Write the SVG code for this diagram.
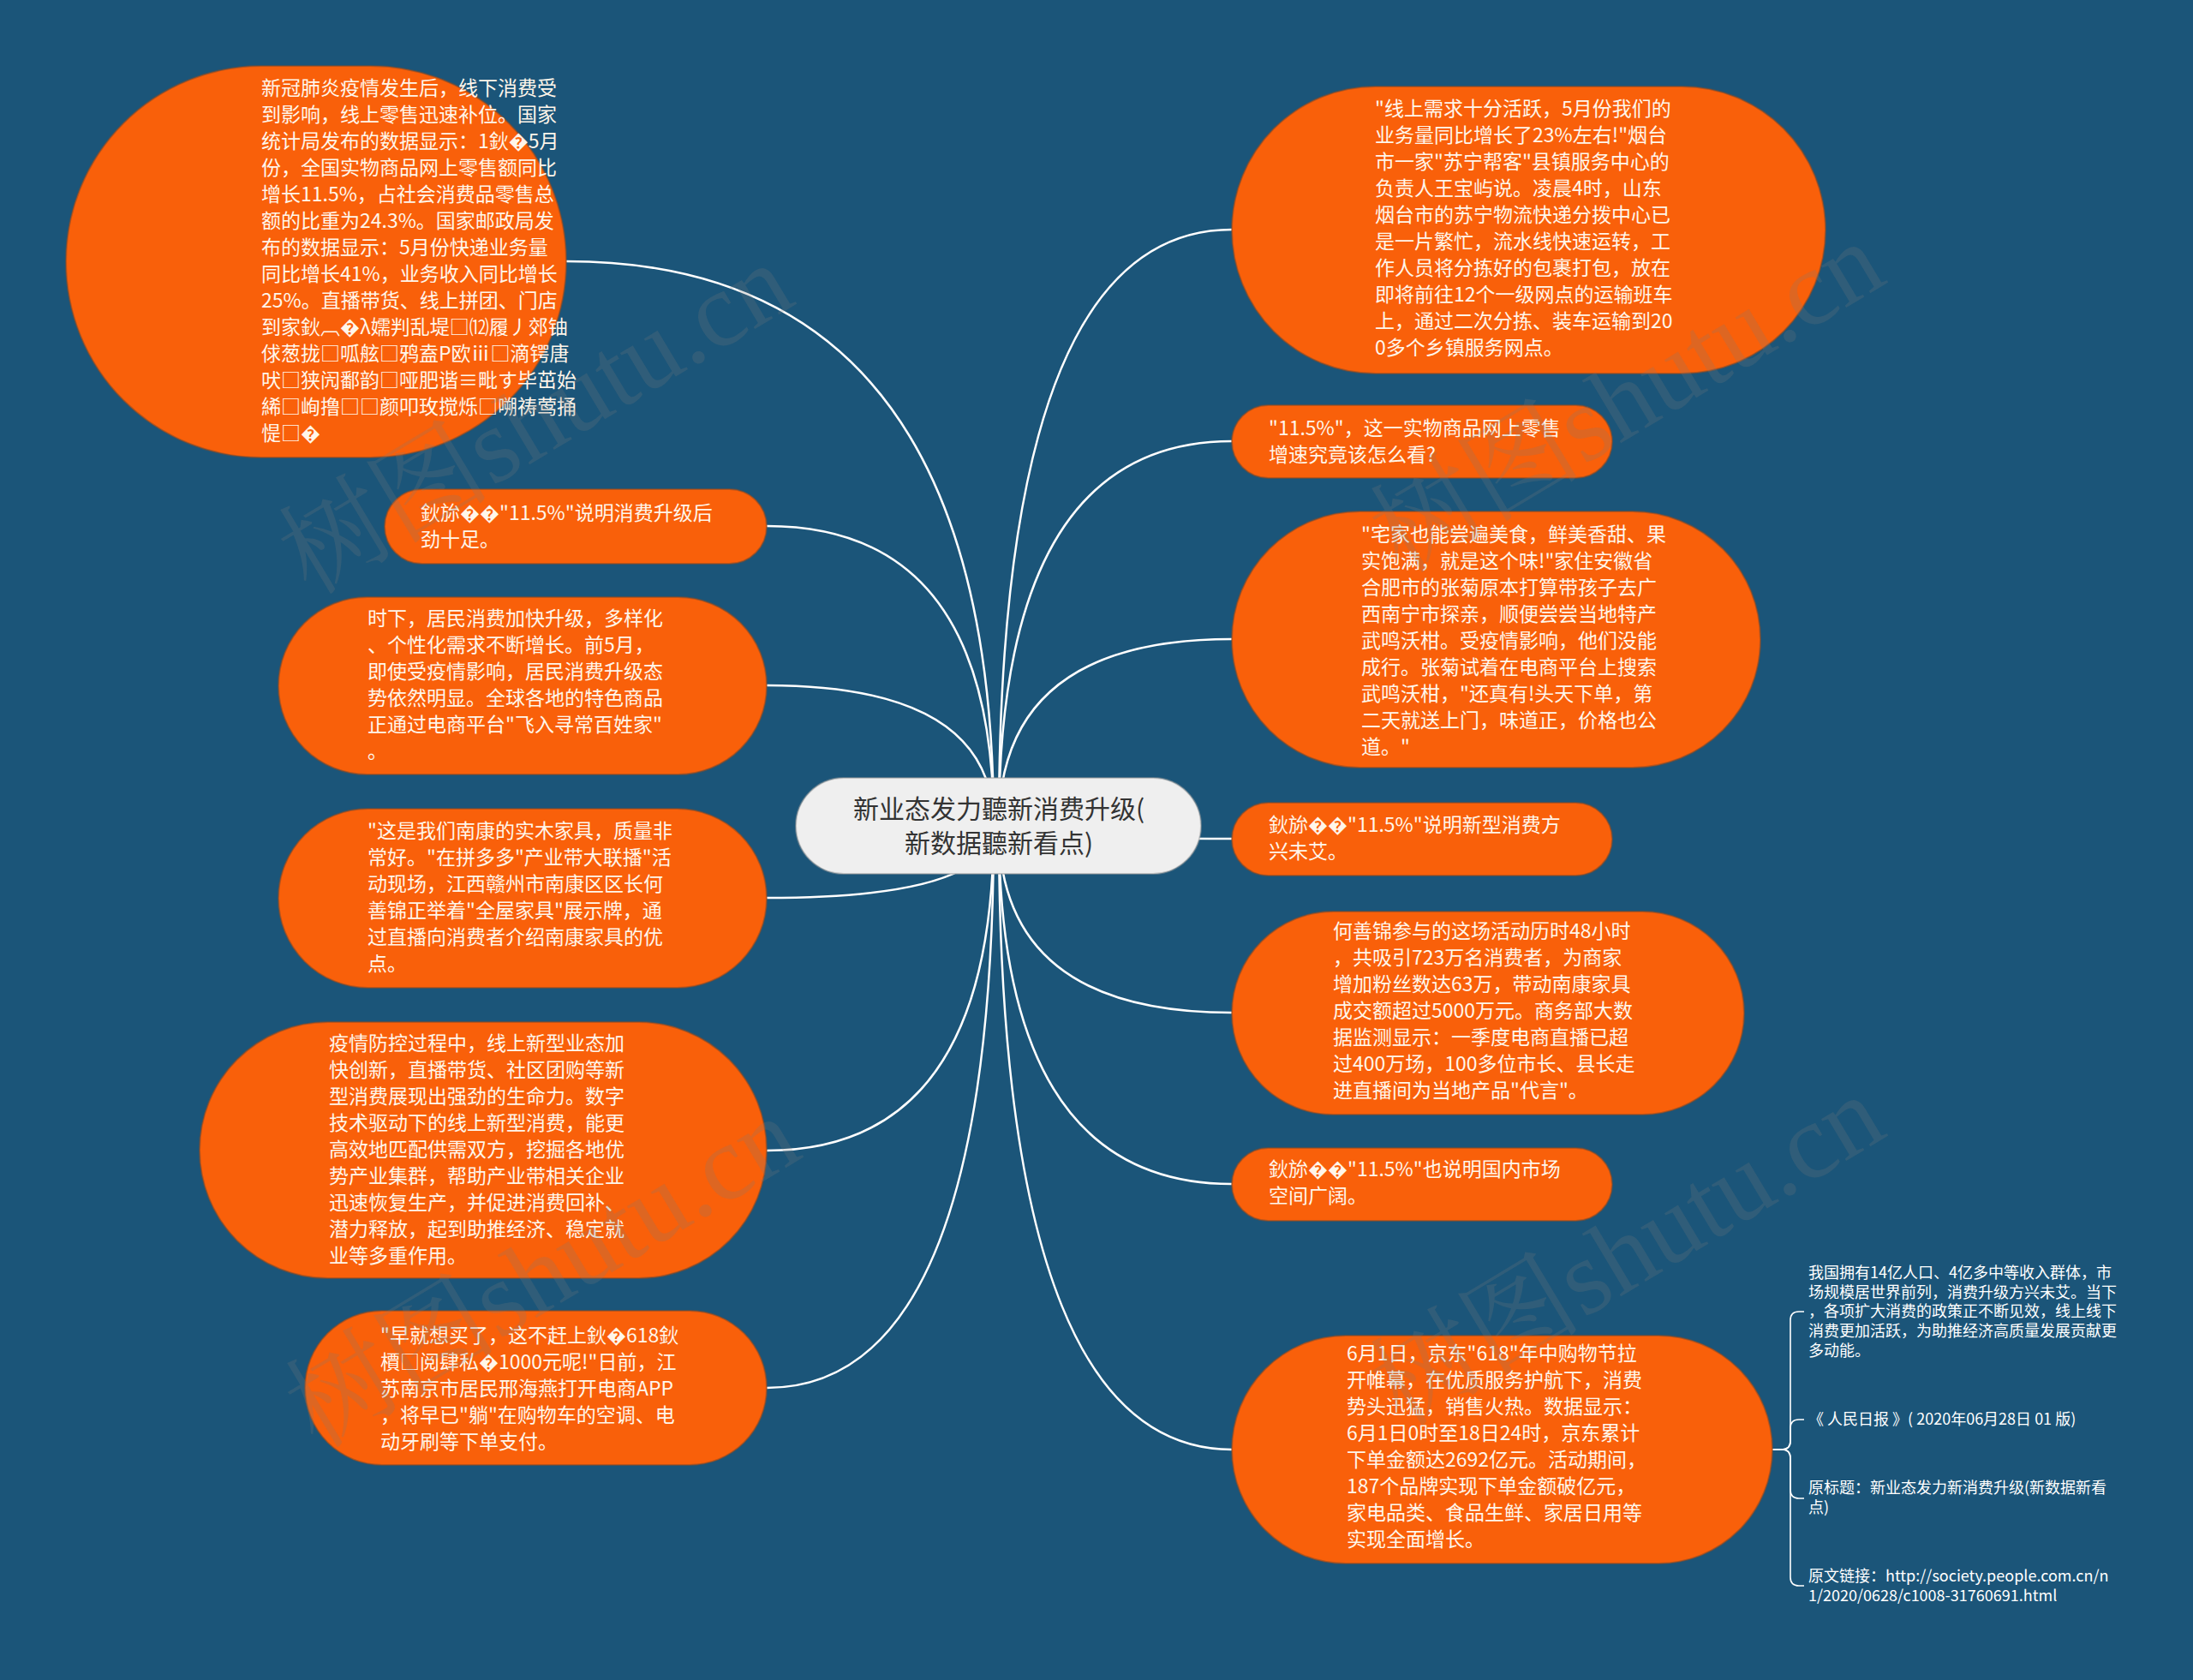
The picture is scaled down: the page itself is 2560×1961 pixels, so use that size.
<svg xmlns="http://www.w3.org/2000/svg" width="2560" height="1961" viewBox="0 0 2560 1961">
<style>
.bg{fill:#1b5579}
.node rect{fill:#f9600a;stroke:#8a4a26;stroke-opacity:.55;stroke-width:2}
.root rect{fill:#efefef;stroke:#9a9a9a;stroke-opacity:.5;stroke-width:2}
.t{font-family:"Noto Sans CJK SC","Noto Sans",sans-serif;font-size:23px;fill:#fff6ea}
.rt{font-family:"Noto Sans CJK SC","Noto Sans",sans-serif;font-size:30px;fill:#333333;text-anchor:middle}
.nt{font-family:"Noto Sans CJK SC","Noto Sans",sans-serif;font-size:18px;fill:#ffffff}
.edge{fill:none;stroke:#ffffff;stroke-width:2.5}
.brace{fill:none;stroke:#ffffff;stroke-width:1.6}
.wm{font-family:"Liberation Serif","Noto Serif CJK SC","Noto Sans CJK SC",serif;font-size:124px;fill:#7a7a7a;fill-opacity:.22}
</style>
<rect class="bg" x="0" y="0" width="2560" height="1961"/>

<g id="connectors">
<path class="edge" d="M1160 964 Q1160 305 661 305"/>
<path class="edge" d="M1160 964 Q1160 614 895 614"/>
<path class="edge" d="M1160 964 Q1160 800 895 800"/>
<path class="edge" d="M1160 964 Q1160 1048 895 1048"/>
<path class="edge" d="M1160 964 Q1160 1343 895 1343"/>
<path class="edge" d="M1160 964 Q1160 1620 895 1620"/>
<path class="edge" d="M1166 964 Q1166 268 1438 268"/>
<path class="edge" d="M1166 964 Q1166 515 1438 515"/>
<path class="edge" d="M1166 964 Q1166 746 1438 746"/>
<path class="edge" d="M1166 964 Q1166 979 1438 979"/>
<path class="edge" d="M1166 964 Q1166 1182 1438 1182"/>
<path class="edge" d="M1166 964 Q1166 1382 1438 1382"/>
<path class="edge" d="M1166 964 Q1166 1692 1438 1692"/>
<path class="brace" d="M2069 1692 L2080 1692 Q2090 1692 2090 1682 L2090 1541 Q2090 1531 2100 1531 L2106 1531"/>
<path class="brace" d="M2069 1692 L2080 1692 Q2090 1692 2090 1682 L2090 1667 Q2090 1657 2100 1657 L2106 1657"/>
<path class="brace" d="M2069 1692 L2080 1692 Q2090 1692 2090 1702 L2090 1739 Q2090 1749 2100 1749 L2106 1749"/>
<path class="brace" d="M2069 1692 L2080 1692 Q2090 1692 2090 1702 L2090 1841 Q2090 1851 2100 1851 L2106 1851"/>
</g>

<g id="root" class="root">
<rect x="929" y="908" width="473" height="112" rx="56"/>
<text class="rt"><tspan x="1166" y="955">新业态发力聽新消费升级(</tspan><tspan x="1166" y="995">新数据聽新看点)</tspan></text>
</g>

<g id="n1" class="node">
<rect x="77" y="77" width="584" height="457" rx="228.5"/>
<text class="t">
<tspan x="305" y="111">新冠肺炎疫情发生后，线下消费受</tspan>
<tspan x="305" y="142">到影响，线上零售迅速补位。国家</tspan>
<tspan x="305" y="173">统计局发布的数据显示：1鈥�5月</tspan>
<tspan x="305" y="204">份，全国实物商品网上零售额同比</tspan>
<tspan x="305" y="235">增长11.5%，占社会消费品零售总</tspan>
<tspan x="305" y="266">额的比重为24.3%。国家邮政局发</tspan>
<tspan x="305" y="297">布的数据显示：5月份快递业务量</tspan>
<tspan x="305" y="328">同比增长41%，业务收入同比增长</tspan>
<tspan x="305" y="359">25%。直播带货、线上拼团、门店</tspan>
<tspan x="305" y="390">到家鈥︹�λ嬬判乱堤□⑿履丿郊铀</tspan>
<tspan x="305" y="421">俅葱拢□呱舷□鸦盍P欧ⅲ□滴锷唐</tspan>
<tspan x="305" y="452">吠□狭闶鄱韵□哑肥谐≡毗す毕茁始</tspan>
<tspan x="305" y="483">絺□峋撸□□颜叩玫搅烁□嗍祷莺捅</tspan>
<tspan x="305" y="514">惿□�</tspan>
</text>
</g>

<g id="n2" class="node">
<rect x="449" y="571" width="446" height="87" rx="43.5"/>
<text class="t"><tspan x="491" y="607">鈥旀��"11.5%"说明消费升级后</tspan><tspan x="491" y="638">劲十足。</tspan></text>
</g>

<g id="n3" class="node">
<rect x="325" y="697" width="570" height="207" rx="103.5"/>
<text class="t">
<tspan x="429" y="730">时下，居民消费加快升级，多样化</tspan>
<tspan x="429" y="761">、个性化需求不断增长。前5月，</tspan>
<tspan x="429" y="792">即使受疫情影响，居民消费升级态</tspan>
<tspan x="429" y="823">势依然明显。全球各地的特色商品</tspan>
<tspan x="429" y="854">正通过电商平台"飞入寻常百姓家"</tspan>
<tspan x="429" y="885">。</tspan>
</text>
</g>

<g id="n4" class="node">
<rect x="325" y="944" width="570" height="209" rx="104.5"/>
<text class="t">
<tspan x="429" y="978">"这是我们南康的实木家具，质量非</tspan>
<tspan x="429" y="1009">常好。"在拼多多"产业带大联播"活</tspan>
<tspan x="429" y="1040">动现场，江西赣州市南康区区长何</tspan>
<tspan x="429" y="1071">善锦正举着"全屋家具"展示牌，通</tspan>
<tspan x="429" y="1102">过直播向消费者介绍南康家具的优</tspan>
<tspan x="429" y="1133">点。</tspan>
</text>
</g>

<g id="n5" class="node">
<rect x="233" y="1193" width="662" height="299" rx="149.5"/>
<text class="t">
<tspan x="384" y="1226">疫情防控过程中，线上新型业态加</tspan>
<tspan x="384" y="1257">快创新，直播带货、社区团购等新</tspan>
<tspan x="384" y="1288">型消费展现出强劲的生命力。数字</tspan>
<tspan x="384" y="1319">技术驱动下的线上新型消费，能更</tspan>
<tspan x="384" y="1350">高效地匹配供需双方，挖掘各地优</tspan>
<tspan x="384" y="1381">势产业集群，帮助产业带相关企业</tspan>
<tspan x="384" y="1412">迅速恢复生产，并促进消费回补、</tspan>
<tspan x="384" y="1443">潜力释放，起到助推经济、稳定就</tspan>
<tspan x="384" y="1474">业等多重作用。</tspan>
</text>
</g>

<g id="n6" class="node">
<rect x="356" y="1530" width="539" height="180" rx="90"/>
<text class="t">
<tspan x="444" y="1567">"早就想买了，这不赶上鈥�618鈥</tspan>
<tspan x="444" y="1598">檟□阅肆私�1000元呢!"日前，江</tspan>
<tspan x="444" y="1629">苏南京市居民邢海燕打开电商APP</tspan>
<tspan x="444" y="1660">，将早已"躺"在购物车的空调、电</tspan>
<tspan x="444" y="1691">动牙刷等下单支付。</tspan>
</text>
</g>

<g id="n7" class="node">
<rect x="1438" y="101" width="693" height="335" rx="167.5"/>
<text class="t">
<tspan x="1605" y="135">"线上需求十分活跃，5月份我们的</tspan>
<tspan x="1605" y="166">业务量同比增长了23%左右!"烟台</tspan>
<tspan x="1605" y="197">市一家"苏宁帮客"县镇服务中心的</tspan>
<tspan x="1605" y="228">负责人王宝屿说。凌晨4时，山东</tspan>
<tspan x="1605" y="259">烟台市的苏宁物流快递分拨中心已</tspan>
<tspan x="1605" y="290">是一片繁忙，流水线快速运转，工</tspan>
<tspan x="1605" y="321">作人员将分拣好的包裹打包，放在</tspan>
<tspan x="1605" y="352">即将前往12个一级网点的运输班车</tspan>
<tspan x="1605" y="383">上，通过二次分拣、装车运输到20</tspan>
<tspan x="1605" y="414">0多个乡镇服务网点。</tspan>
</text>
</g>

<g id="n8" class="node">
<rect x="1438" y="473" width="444" height="85" rx="42.5"/>
<text class="t"><tspan x="1481" y="508">"11.5%"，这一实物商品网上零售</tspan><tspan x="1481" y="539">增速究竟该怎么看?</tspan></text>
</g>

<g id="n9" class="node">
<rect x="1438" y="597" width="617" height="299" rx="149.5"/>
<text class="t">
<tspan x="1589" y="632">"宅家也能尝遍美食，鲜美香甜、果</tspan>
<tspan x="1589" y="663">实饱满，就是这个味!"家住安徽省</tspan>
<tspan x="1589" y="694">合肥市的张菊原本打算带孩子去广</tspan>
<tspan x="1589" y="725">西南宁市探亲，顺便尝尝当地特产</tspan>
<tspan x="1589" y="756">武鸣沃柑。受疫情影响，他们没能</tspan>
<tspan x="1589" y="787">成行。张菊试着在电商平台上搜索</tspan>
<tspan x="1589" y="818">武鸣沃柑，"还真有!头天下单，第</tspan>
<tspan x="1589" y="849">二天就送上门，味道正，价格也公</tspan>
<tspan x="1589" y="880">道。"</tspan>
</text>
</g>

<g id="n10" class="node">
<rect x="1438" y="937" width="444" height="85" rx="42.5"/>
<text class="t"><tspan x="1481" y="971">鈥旀��"11.5%"说明新型消费方</tspan><tspan x="1481" y="1002">兴未艾。</tspan></text>
</g>

<g id="n11" class="node">
<rect x="1438" y="1064" width="598" height="237" rx="118.5"/>
<text class="t">
<tspan x="1556" y="1095">何善锦参与的这场活动历时48小时</tspan>
<tspan x="1556" y="1126">，共吸引723万名消费者，为商家</tspan>
<tspan x="1556" y="1157">增加粉丝数达63万，带动南康家具</tspan>
<tspan x="1556" y="1188">成交额超过5000万元。商务部大数</tspan>
<tspan x="1556" y="1219">据监测显示：一季度电商直播已超</tspan>
<tspan x="1556" y="1250">过400万场，100多位市长、县长走</tspan>
<tspan x="1556" y="1281">进直播间为当地产品"代言"。</tspan>
</text>
</g>

<g id="n12" class="node">
<rect x="1438" y="1340" width="444" height="85" rx="42.5"/>
<text class="t"><tspan x="1481" y="1373">鈥旀��"11.5%"也说明国内市场</tspan><tspan x="1481" y="1404">空间广阔。</tspan></text>
</g>

<g id="n13" class="node">
<rect x="1438" y="1559" width="631" height="266" rx="133"/>
<text class="t">
<tspan x="1572" y="1588">6月1日，京东"618"年中购物节拉</tspan>
<tspan x="1572" y="1619">开帷幕，在优质服务护航下，消费</tspan>
<tspan x="1572" y="1650">势头迅猛，销售火热。数据显示：</tspan>
<tspan x="1572" y="1681">6月1日0时至18日24时，京东累计</tspan>
<tspan x="1572" y="1712">下单金额达2692亿元。活动期间，</tspan>
<tspan x="1572" y="1743">187个品牌实现下单金额破亿元，</tspan>
<tspan x="1572" y="1774">家电品类、食品生鲜、家居日用等</tspan>
<tspan x="1572" y="1805">实现全面增长。</tspan>
</text>
</g>

<g id="note1">
<text class="nt">
<tspan x="2111" y="1492">我国拥有14亿人口、4亿多中等收入群体，市</tspan>
<tspan x="2111" y="1515">场规模居世界前列，消费升级方兴未艾。当下</tspan>
<tspan x="2111" y="1537">，各项扩大消费的政策正不断见效，线上线下</tspan>
<tspan x="2111" y="1560">消费更加活跃，为助推经济高质量发展贡献更</tspan>
<tspan x="2111" y="1583">多动能。</tspan>
</text>
</g>
<g id="note2"><text class="nt"><tspan x="2111" y="1663">《 人民日报 》( 2020年06月28日 01 版)</tspan></text></g>
<g id="note3"><text class="nt"><tspan x="2111" y="1743">原标题：新业态发力新消费升级(新数据新看</tspan><tspan x="2111" y="1766">点)</tspan></text></g>
<g id="note4"><text class="nt"><tspan x="2111" y="1846">原文链接：http://society.people.com.cn/n</tspan><tspan x="2111" y="1869">1/2020/0628/c1008-31760691.html</tspan></text></g>

<g id="watermarks">
<text class="wm" transform="translate(362 696) rotate(-31)">树图shutu.cn</text>
<text class="wm" transform="translate(370 1692) rotate(-31)">树图shutu.cn</text>
<text class="wm" transform="translate(1636 671) rotate(-31)">树图shutu.cn</text>
<text class="wm" transform="translate(1636 1667) rotate(-31)">树图shutu.cn</text>
</g>
</svg>
